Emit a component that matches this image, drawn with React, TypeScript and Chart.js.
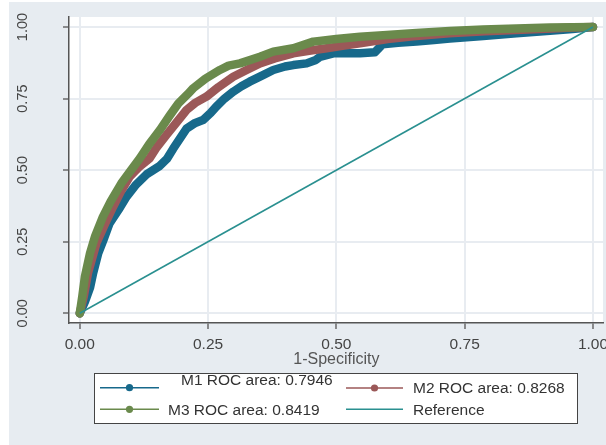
import React, { useEffect, useRef } from "react";
import { Chart, registerables } from "chart.js";

Chart.register(...registerables);

// ---- data ----
const tickValues = [0, 0.25, 0.5, 0.75, 1];
const tickLabels = ["0.00", "0.25", "0.50", "0.75", "1.00"];
const xTitle = "1-Specificity";

const m1Label = "M1 ROC area: 0.7946";
const m2Label = "M2 ROC area: 0.8268";
const m3Label = "M3 ROC area: 0.8419";
const refLabel = "Reference";

const m1Fpr = [0, 0.01, 0.02, 0.026, 0.036, 0.048, 0.058, 0.075, 0.091, 0.11, 0.13, 0.143, 0.156, 0.17, 0.182, 0.195, 0.208, 0.225, 0.24, 0.255, 0.266, 0.282, 0.299, 0.315, 0.331, 0.355, 0.377, 0.4, 0.416, 0.442, 0.46, 0.468, 0.494, 0.52, 0.546, 0.575, 0.59, 0.62, 0.656, 0.69, 0.721, 0.786, 0.851, 0.916, 0.96, 1];
const m1Tpr = [0, 0.04, 0.09, 0.14, 0.21, 0.265, 0.314, 0.36, 0.407, 0.45, 0.485, 0.5, 0.515, 0.54, 0.575, 0.61, 0.645, 0.665, 0.675, 0.7, 0.722, 0.75, 0.774, 0.793, 0.809, 0.83, 0.85, 0.862, 0.867, 0.873, 0.885, 0.896, 0.908, 0.908, 0.908, 0.912, 0.94, 0.945, 0.949, 0.955, 0.96, 0.969, 0.978, 0.987, 0.993, 1];

const m2Fpr = [0, 0.008, 0.016, 0.0325, 0.05, 0.065, 0.08, 0.097, 0.115, 0.136, 0.15, 0.169, 0.19, 0.208, 0.225, 0.247, 0.27, 0.299, 0.325, 0.351, 0.38, 0.416, 0.45, 0.481, 0.515, 0.546, 0.6, 0.65, 0.72, 0.79, 0.85, 0.92, 0.96, 1];
const m2Tpr = [0, 0.06, 0.14, 0.245, 0.315, 0.372, 0.425, 0.477, 0.51, 0.541, 0.58, 0.623, 0.67, 0.71, 0.735, 0.757, 0.79, 0.826, 0.85, 0.873, 0.89, 0.908, 0.918, 0.926, 0.935, 0.943, 0.958, 0.968, 0.978, 0.985, 0.99, 0.995, 0.998, 1];

const m3Fpr = [0, 0.005, 0.01, 0.02, 0.03, 0.045, 0.06, 0.081, 0.1, 0.117, 0.135, 0.156, 0.175, 0.192, 0.21, 0.221, 0.245, 0.273, 0.29, 0.312, 0.351, 0.377, 0.416, 0.455, 0.5, 0.546, 0.591, 0.656, 0.721, 0.786, 0.851, 0.916, 0.96, 1];
const m3Tpr = [0, 0.06, 0.128, 0.21, 0.27, 0.337, 0.39, 0.454, 0.5, 0.541, 0.59, 0.64, 0.69, 0.733, 0.765, 0.786, 0.82, 0.85, 0.865, 0.873, 0.896, 0.914, 0.926, 0.949, 0.958, 0.966, 0.971, 0.979, 0.986, 0.991, 0.995, 0.998, 0.999, 1];

const refFpr = [0, 1];
const refTpr = [0, 1];

// ---- styles ----
const C_BLUE = "#17698b";
const C_RED = "#9b5858";
const C_GREEN = "#6a8a4c";
const C_TEAL = "#2a9090";
const C_BG = "#e7ecf1";
const FONT = "'Liberation Sans', Arial, sans-serif";

const toPts = (xs: number[], ys: number[]) => xs.map((x, i) => ({ x, y: ys[i] }));

const decorPlugin = {
  id: "decor",
  beforeDraw(chart: any) {
    const { ctx, chartArea } = chart;
    ctx.save();
    ctx.fillStyle = C_BG;
    ctx.fillRect(0, 0, chart.width, chart.height);
    ctx.fillStyle = "#ffffff";
    ctx.fillRect(chartArea.left, chartArea.top, chartArea.right - chartArea.left, chartArea.bottom - chartArea.top);
    ctx.restore();
  },
  afterDraw(chart: any) {
    const { ctx } = chart;
    const xs = chart.scales.x;
    const ys = chart.scales.y;
    ctx.save();
    // x tick labels
    ctx.fillStyle = "#444444";
    ctx.font = `15.5px ${FONT}`;
    ctx.textAlign = "center";
    ctx.textBaseline = "alphabetic";
    tickValues.forEach((v, i) => {
      ctx.fillText(tickLabels[i], xs.getPixelForValue(v), 346.5);
    });
    // x title
    ctx.fillStyle = "#555555";
    ctx.font = `16px ${FONT}`;
    ctx.fillText(xTitle, xs.getPixelForValue(0.5), 361.5);
    // y tick labels (rotated)
    ctx.fillStyle = "#444444";
    ctx.font = `14.5px ${FONT}`;
    tickValues.forEach((v, i) => {
      ctx.save();
      ctx.translate(17.7, ys.getPixelForValue(v));
      ctx.rotate(-Math.PI / 2);
      ctx.fillText(tickLabels[i], 0, 0);
      ctx.restore();
    });
    // legend box
    ctx.fillStyle = "#ffffff";
    ctx.fillRect(85, 371, 484, 50);
    ctx.strokeStyle = "#444444";
    ctx.lineWidth = 1;
    ctx.strokeRect(85.5, 371.5, 483, 50);
    const entries = [
      { color: C_BLUE, x0: 91, x1: 150, ly: 385.7, dot: true, text: m1Label, tx: 172, ty: 383 },
      { color: C_RED, x0: 337, x1: 394, ly: 386, dot: true, text: m2Label, tx: 404, ty: 391.3 },
      { color: C_GREEN, x0: 91, x1: 150, ly: 407.3, dot: true, text: m3Label, tx: 159, ty: 413 },
      { color: C_TEAL, x0: 337, x1: 394, ly: 407.3, dot: false, text: refLabel, tx: 404, ty: 413 },
    ];
    ctx.font = `15.5px ${FONT}`;
    ctx.textAlign = "left";
    entries.forEach((e) => {
      ctx.strokeStyle = e.color;
      ctx.lineWidth = 1.5;
      ctx.beginPath();
      ctx.moveTo(e.x0, e.ly);
      ctx.lineTo(e.x1, e.ly);
      ctx.stroke();
      if (e.dot) {
        ctx.fillStyle = e.color;
        ctx.beginPath();
        ctx.arc((e.x0 + e.x1) / 2, e.ly, 3.6, 0, Math.PI * 2);
        ctx.fill();
      }
      ctx.fillStyle = "#333333";
      ctx.fillText(e.text, e.tx, e.ty);
    });
    ctx.restore();
  },
};

export default function App() {
  const ref = useRef<HTMLCanvasElement | null>(null);
  useEffect(() => {
    document.body.style.margin = "0";
    const canvas = ref.current;
    if (!canvas) return;
    const curve = (label: string, xs: number[], ys: number[], color: string, order: number) => ({
      label,
      data: toPts(xs, ys),
      showLine: true,
      borderColor: color,
      backgroundColor: color,
      borderWidth: 8.5,
      borderCapStyle: "round",
      borderJoinStyle: "round",
      pointRadius: 0,
      tension: 0,
      order,
    });
    const chart = new Chart(canvas, {
      type: "scatter",
      data: {
        datasets: [
          curve(m1Label, m1Fpr, m1Tpr, C_BLUE, 3),
          curve(m2Label, m2Fpr, m2Tpr, C_RED, 2),
          curve(m3Label, m3Fpr, m3Tpr, C_GREEN, 1),
          { ...curve(refLabel, refFpr, refTpr, C_TEAL, 0), borderWidth: 1.6, borderCapStyle: "butt" },
        ] as any,
      },
      plugins: [decorPlugin],
      options: {
        responsive: false,
        animation: false,
        events: [],
        layout: { padding: { top: 15, right: 3, left: 0, bottom: 0 } },
        plugins: { legend: { display: false }, tooltip: { enabled: false } },
        scales: {
          x: {
            type: "linear",
            min: -0.021,
            max: 1.0195,
            afterBuildTicks: (s: any) => {
              s.ticks = tickValues.map((v) => ({ value: v }));
            },
            afterFit: (s: any) => {
              s.height = 122;
            },
            ticks: { display: false },
            grid: { color: "#e8ecf1", lineWidth: 2, drawTicks: true, tickLength: 6, tickColor: "#555555", tickWidth: 1.3 },
            border: { display: true, color: "#555555", width: 1.5 },
          },
          y: {
            type: "linear",
            min: -0.034,
            max: 1.035,
            afterBuildTicks: (s: any) => {
              s.ticks = tickValues.map((v) => ({ value: v }));
            },
            afterFit: (s: any) => {
              s.width = 60;
            },
            ticks: { display: false },
            grid: { color: "#e8ecf1", lineWidth: 2, drawTicks: true, tickLength: 6, tickColor: "#555555", tickWidth: 1.3 },
            border: { display: true, color: "#555555", width: 1.5 },
          },
        },
      } as any,
    });
    return () => chart.destroy();
  }, []);
  return (
    <div style={{ position: "relative", width: 606, height: 445, background: "#ffffff", overflow: "hidden" }}>
      <canvas
        ref={ref}
        width={597}
        height={443}
        style={{ position: "absolute", left: 9, top: 2, width: 597, height: 443 }}
      />
    </div>
  );
}
